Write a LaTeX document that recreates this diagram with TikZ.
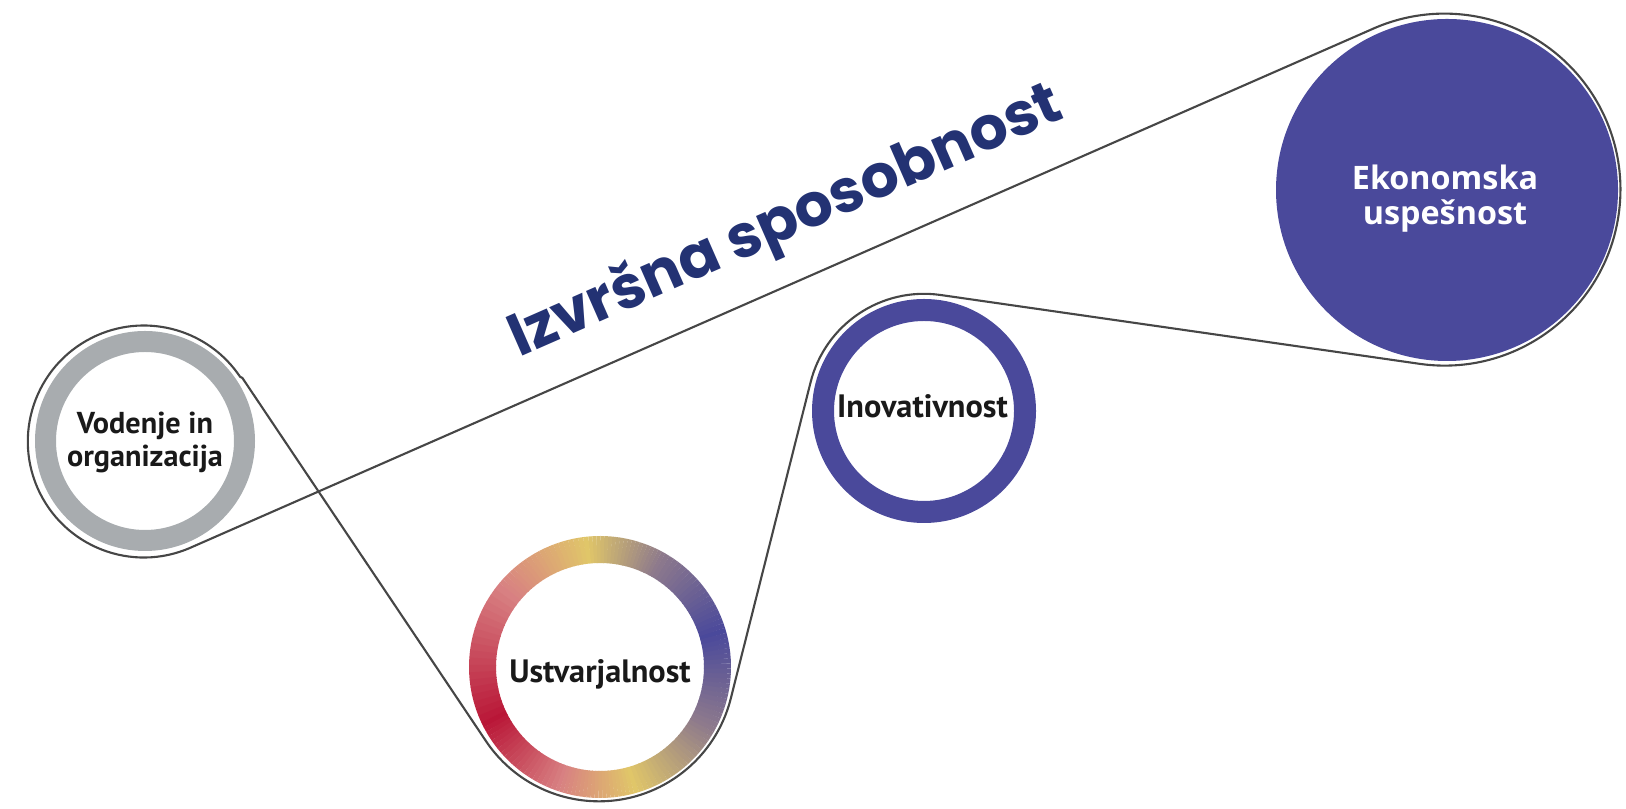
\documentclass[tikz,border=0pt]{standalone}
\usepackage{fontspec}
\setmainfont{PT Sans}
\newfontfamily\titlefont{Poppins}
\newfontfamily\ekofont{Open Sans}
\usepackage{tikz}

\definecolor{ringgray}{RGB}{168,172,175}
\definecolor{ringblue}{RGB}{74,73,155}
\definecolor{titleblue}{RGB}{35,50,115}
\definecolor{ured}{RGB}{185,22,55}
\definecolor{upink}{RGB}{216,128,130}
\definecolor{uyellow}{RGB}{224,198,105}
\definecolor{ugray}{RGB}{142,122,140}
\definecolor{beltgray}{RGB}{70,70,70}

\begin{document}
\begin{tikzpicture}[hub/.style={circle, minimum size=#1, inner sep=0pt, outer sep=0pt},
    lbl/.style={font=\bfseries\fontsize{9.2}{9.4}\selectfont, text=black!90, align=center, inner sep=0pt},
    belt/.style={draw=beltgray, line width=0.6pt, line join=round}]

    \useasboundingbox (0, 0) rectangle (16.26, 8.09);

    \node [hub=2.32cm] (oV) at (1.45, 3.68) {};
    \node [hub=2.72cm] (oU) at (6.00, 1.42) {};
    \node [hub=2.34cm] (oI) at (9.24, 3.98) {};
    \node [hub=3.52cm] (oE) at (14.47, 6.19) {};

    \draw [ringgray, line width=0.21cm] (oV.center) circle [radius=0.995];
    \draw [ringblue, line width=0.22cm] (oI.center) circle [radius=1.01];
    \fill [ringblue] (oE.center) circle [radius=1.71];

    % colour wheel ring
    \foreach \a/\b/\ca/\cb in {15/60/ringblue/ugray, 60/95/ugray/uyellow, 95/140/uyellow/upink,
        140/205/upink/ured, 205/250/ured/upink, 250/285/upink/uyellow, 285/330/uyellow/ugray,
        330/375/ugray/ringblue}
      \foreach \t in {0,5,...,95}
        \draw [\cb!\t!\ca, line width=0.27cm] (oU.center) ++({\a+(\b-\a)*\t/100}:1.175)
          arc [start angle={\a+(\b-\a)*\t/100}, end angle={\a+(\b-\a)*(\t+5.6)/100}, radius=1.175];

    \draw [belt] (oV.33.85) -- (oU.213.85) arc [start angle=213.85, end angle=346.09, radius=1.36]
      -- (oI.166.09) arc [start angle=166.09, end angle=81.85, radius=1.17]
      -- (oE.261.85) arc [start angle=261.85, end angle=473.63, radius=1.76]
      -- (oV.293.63) arc [start angle=293.63, end angle=33.85, radius=1.16] -- cycle;

    \node [lbl, font=\bfseries\fontsize{8.6}{9.4}\selectfont] (V) at (1.45, 3.67) {Vodenje in\\organizacija};
    \node [lbl, anchor=base] (U) at (6.00, 1.26) {Ustvarjalnost};
    \node [lbl, anchor=base] (I) at (9.225, 3.91) {Inovativnost};
    \node [lbl, text=white, font=\ekofont\bfseries\fontsize{9.2}{9.9}\selectfont] (E) at (14.45, 6.10) {Ekonomska\\uspešnost};
    \node [anchor=base, rotate=23.7, text=titleblue, inner sep=0pt,
      font=\titlefont\bfseries\fontsize{17}{20}\selectfont] (T) at (7.925, 5.715) {Izvršna sposobnost};

\end{tikzpicture}
\end{document}
